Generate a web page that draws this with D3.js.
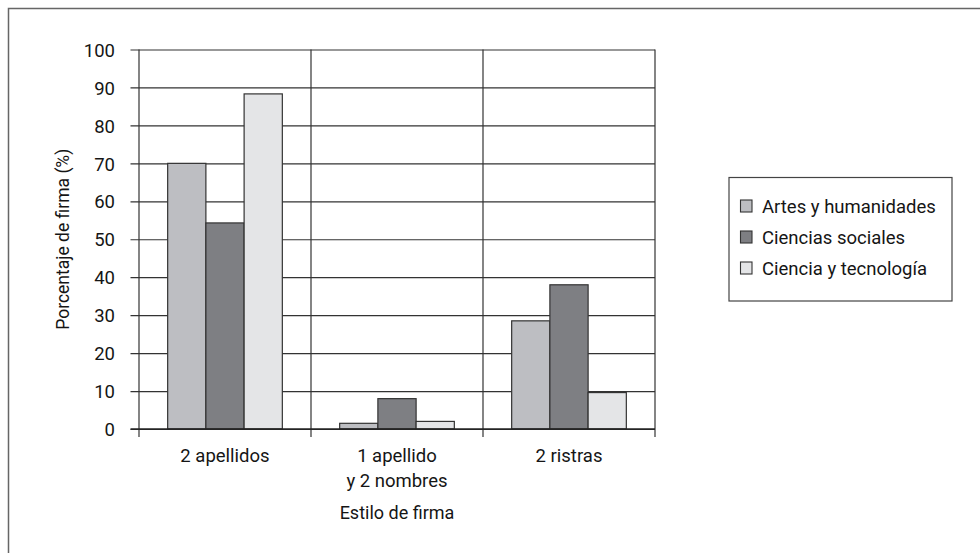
<!DOCTYPE html>
<html><head><meta charset="utf-8">
<script src="https://cdn.jsdelivr.net/npm/d3@7"></script>
<style>body{margin:0;background:#fff;} svg{display:block;font-family:Roboto,"Liberation Sans",Arial,sans-serif;}</style>
</head><body>
<script>
const categories = ["2 apellidos", "1 apellido\ny 2 nombres", "2 ristras"];
const seriesNames = ["Artes y humanidades", "Ciencias sociales", "Ciencia y tecnología"];
const artes = [70, 1.5, 28.5];
const sociales = [54.3, 8, 38];
const tecnologia = [88.3, 2, 9.6];
const seriesValues = [artes, sociales, tecnologia];
const yTicks = [0,10,20,30,40,50,60,70,80,90,100];
const colors = ["#bdbec2", "#7e7f83", "#e4e5e7"];

const W = 980, H = 553;
const svg = d3.select("body").append("svg").attr("width", W).attr("height", H);
const plot = {l:139, r:655, t:49.5, b:429};
const ink = "#151515";

// outer frame (top and left)
svg.append("path").attr("d", `M8.5,553 L8.5,8.5 L980,8.5`).attr("fill","none").attr("stroke","#666").attr("stroke-width",1.5);

const x = d3.scaleBand().domain(categories).range([plot.l, plot.r]).paddingInner(0).paddingOuter(0);
const xi = d3.scaleBand().domain(d3.range(seriesNames.length)).range([0, x.bandwidth()]).paddingInner(0).paddingOuter(0.75);
const y = d3.scaleLinear().domain([0,100]).range([plot.b, plot.t]);

// horizontal gridlines + ticks
const yAxis = d3.axisLeft(y).tickValues(yTicks).tickSize(-(plot.r - plot.l)).tickPadding(16).tickFormat(d3.format("d"));
const gy = svg.append("g").attr("transform", `translate(${plot.l},0)`).call(yAxis);
gy.select(".domain").remove();
gy.selectAll(".tick line").attr("stroke", "#333").attr("stroke-width", 1.2).attr("x1", -8.5);
gy.selectAll(".tick text").attr("font-size", 18.5).attr("fill", ink).attr("font-family","Roboto, sans-serif").attr("dy","0.36em").attr("x",-24);

// vertical separators
const seps = [plot.l].concat(categories.map(c => x(c) + x.bandwidth()));
svg.selectAll("line.sep").data(seps).enter().append("line")
  .attr("x1", d => d).attr("x2", d => d).attr("y1", plot.t).attr("y2", plot.b + 8)
  .attr("stroke", "#333").attr("stroke-width", 1.2);

// bars
const groups = svg.selectAll("g.grp").data(categories).enter().append("g")
  .attr("transform", c => `translate(${x(c)},0)`);
groups.selectAll("rect").data((c, ci) => seriesValues.map((s, si) => ({si, v: s[ci]}))).enter().append("rect")
  .attr("x", d => xi(d.si)).attr("width", xi.bandwidth())
  .attr("y", d => y(d.v)).attr("height", d => y(0) - y(d.v))
  .attr("fill", d => colors[d.si]).attr("stroke", "#333").attr("stroke-width", 1.2);

// x axis line
svg.append("line").attr("x1", plot.l - 8.5).attr("x2", plot.r).attr("y1", plot.b).attr("y2", plot.b)
  .attr("stroke", "#222").attr("stroke-width", 1.4);

// category labels
categories.forEach(c => {
  const lines = c.split("\n");
  const t = svg.append("text").attr("x", x(c) + x.bandwidth()/2).attr("y", 462)
    .attr("text-anchor","middle").attr("font-size", 18.5).attr("fill", ink);
  lines.forEach((ln, i) => t.append("tspan").attr("x", x(c) + x.bandwidth()/2).attr("dy", i ? 25 : 0).text(ln));
});

// axis titles
svg.append("text").attr("x", (plot.l + plot.r)/2).attr("y", 519).attr("text-anchor","middle")
  .attr("font-size", 18).attr("fill", ink).text("Estilo de firma");
svg.append("text").attr("transform", `translate(69,${(plot.t+plot.b)/2}) rotate(-90)`).attr("text-anchor","middle")
  .attr("font-size", 17.5).attr("fill", ink).text("Porcentaje de firma (%)");

// legend
const lg = svg.append("g");
lg.append("rect").attr("x", 729).attr("y", 177.5).attr("width", 223).attr("height", 123.5)
  .attr("fill","#fff").attr("stroke","#444").attr("stroke-width",1.2);
seriesNames.forEach((n, i) => {
  const yy = 200 + i * 31;
  lg.append("rect").attr("x", 740.5).attr("y", yy).attr("width", 11.5).attr("height", 12)
    .attr("fill", colors[i]).attr("stroke","#333").attr("stroke-width",1.1);
  lg.append("text").attr("x", 762).attr("y", yy + 12.5).attr("font-size", 18.5).attr("fill", ink).text(n);
});
</script>
</body></html>
